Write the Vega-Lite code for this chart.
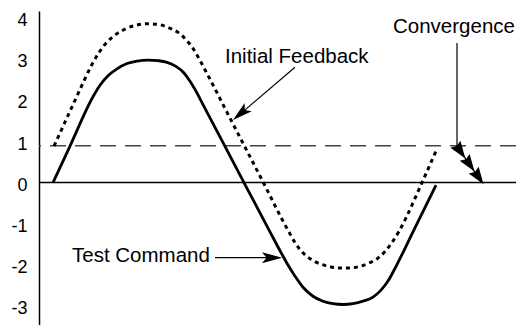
{
  "$schema": "https://vega.github.io/schema/vega-lite/v6.json",
  "autosize": {"type": "none"},
  "padding": {"left": 39, "top": 11, "right": 0, "bottom": 0},
  "width": 477,
  "height": 314,
  "background": "white",
  "config": {"view": {"stroke": null}},
  "datasets": {
    "curves": [
      {"t": 14, "v": 0.0, "series": "Test Command"},
      {"t": 31, "v": 0.89, "series": "Test Command"},
      {"t": 54, "v": 2.09, "series": "Test Command"},
      {"t": 61, "v": 2.37, "series": "Test Command"},
      {"t": 69, "v": 2.60, "series": "Test Command"},
      {"t": 78, "v": 2.77, "series": "Test Command"},
      {"t": 88, "v": 2.90, "series": "Test Command"},
      {"t": 98, "v": 2.96, "series": "Test Command"},
      {"t": 109, "v": 2.985, "series": "Test Command"},
      {"t": 119, "v": 2.97, "series": "Test Command"},
      {"t": 128, "v": 2.93, "series": "Test Command"},
      {"t": 137, "v": 2.83, "series": "Test Command"},
      {"t": 145, "v": 2.67, "series": "Test Command"},
      {"t": 151, "v": 2.47, "series": "Test Command"},
      {"t": 156, "v": 2.27, "series": "Test Command"},
      {"t": 161, "v": 2.04, "series": "Test Command"},
      {"t": 186, "v": 0.88, "series": "Test Command"},
      {"t": 208, "v": -0.14, "series": "Test Command"},
      {"t": 231, "v": -1.20, "series": "Test Command"},
      {"t": 243, "v": -1.75, "series": "Test Command"},
      {"t": 249, "v": -2.01, "series": "Test Command"},
      {"t": 256, "v": -2.28, "series": "Test Command"},
      {"t": 264, "v": -2.55, "series": "Test Command"},
      {"t": 274, "v": -2.77, "series": "Test Command"},
      {"t": 284, "v": -2.89, "series": "Test Command"},
      {"t": 294, "v": -2.95, "series": "Test Command"},
      {"t": 304, "v": -2.97, "series": "Test Command"},
      {"t": 314, "v": -2.95, "series": "Test Command"},
      {"t": 324, "v": -2.89, "series": "Test Command"},
      {"t": 334, "v": -2.79, "series": "Test Command"},
      {"t": 342, "v": -2.62, "series": "Test Command"},
      {"t": 349, "v": -2.40, "series": "Test Command"},
      {"t": 356, "v": -2.09, "series": "Test Command"},
      {"t": 374, "v": -1.20, "series": "Test Command"},
      {"t": 397, "v": -0.06, "series": "Test Command"},
      {"t": 15, "v": 0.89, "series": "Initial Feedback"},
      {"t": 25, "v": 1.42, "series": "Initial Feedback"},
      {"t": 35, "v": 1.95, "series": "Initial Feedback"},
      {"t": 45, "v": 2.48, "series": "Initial Feedback"},
      {"t": 53, "v": 2.88, "series": "Initial Feedback"},
      {"t": 60, "v": 3.17, "series": "Initial Feedback"},
      {"t": 68, "v": 3.42, "series": "Initial Feedback"},
      {"t": 77, "v": 3.61, "series": "Initial Feedback"},
      {"t": 87, "v": 3.75, "series": "Initial Feedback"},
      {"t": 98, "v": 3.84, "series": "Initial Feedback"},
      {"t": 109, "v": 3.87, "series": "Initial Feedback"},
      {"t": 120, "v": 3.85, "series": "Initial Feedback"},
      {"t": 130, "v": 3.77, "series": "Initial Feedback"},
      {"t": 139, "v": 3.66, "series": "Initial Feedback"},
      {"t": 147, "v": 3.48, "series": "Initial Feedback"},
      {"t": 154, "v": 3.27, "series": "Initial Feedback"},
      {"t": 160, "v": 3.02, "series": "Initial Feedback"},
      {"t": 166, "v": 2.75, "series": "Initial Feedback"},
      {"t": 191, "v": 1.57, "series": "Initial Feedback"},
      {"t": 221, "v": 0.16, "series": "Initial Feedback"},
      {"t": 251, "v": -1.25, "series": "Initial Feedback"},
      {"t": 257, "v": -1.50, "series": "Initial Feedback"},
      {"t": 264, "v": -1.71, "series": "Initial Feedback"},
      {"t": 272, "v": -1.87, "series": "Initial Feedback"},
      {"t": 281, "v": -1.98, "series": "Initial Feedback"},
      {"t": 291, "v": -2.05, "series": "Initial Feedback"},
      {"t": 301, "v": -2.08, "series": "Initial Feedback"},
      {"t": 311, "v": -2.08, "series": "Initial Feedback"},
      {"t": 321, "v": -2.04, "series": "Initial Feedback"},
      {"t": 331, "v": -1.95, "series": "Initial Feedback"},
      {"t": 339, "v": -1.84, "series": "Initial Feedback"},
      {"t": 346, "v": -1.68, "series": "Initial Feedback"},
      {"t": 353, "v": -1.46, "series": "Initial Feedback"},
      {"t": 360, "v": -1.19, "series": "Initial Feedback"},
      {"t": 367, "v": -0.86, "series": "Initial Feedback"},
      {"t": 383, "v": 0.0, "series": "Initial Feedback"},
      {"t": 398, "v": 0.82, "series": "Initial Feedback"}
    ],
    "levels": [
      {"level": 0, "kind": "zero"},
      {"level": 0.9, "kind": "target"}
    ],
    "notes": [
      {"label": "Initial Feedback", "t": 186, "v": 2.91},
      {"label": "Convergence", "t": 354, "v": 3.64},
      {"label": "Test Command", "t": 33, "v": -1.94}
    ],
    "segments": [
      {"name": "test", "t": 176, "v": -1.83, "t2": 240, "v2": -1.83},
      {"name": "feedback", "t": 256, "v": 2.81, "t2": 201.6, "v2": 1.68},
      {"name": "conv", "t": 418, "v": 3.40, "t2": 418, "v2": 0.89},
      {"name": "conv", "t": 418, "v": 0.89, "t2": 443, "v2": 0.0}
    ],
    "heads": [
      {"name": "test", "t": 233, "v": -1.83},
      {"name": "feedback", "t": 201.6, "v": 1.68},
      {"name": "conv", "t": 421.4, "v": 0.76},
      {"name": "conv", "t": 430.6, "v": 0.44},
      {"name": "conv", "t": 439.6, "v": 0.13}
    ]
  },
  "encoding": {
    "x": {"field": "t", "type": "quantitative", "scale": {"domain": [0, 477], "nice": false, "zero": false}, "axis": null},
    "y": {"field": "v", "type": "quantitative", "scale": {"domain": [-3.47, 4.18], "nice": false, "zero": false},
      "axis": {"values": [-3, -2, -1, 0, 1, 2, 3, 4], "title": null, "grid": false, "ticks": false, "tickSize": 0,
        "labelPadding": 12, "labelFontSize": 18, "labelFont": "Liberation Sans", "labelColor": "black",
        "labelExpr": "replace(datum.label, '\u2212', '-')",
        "domainColor": "black", "domainWidth": 1.5, "labelOffset": 2.5}}
  },
  "layer": [
    {
      "data": {"name": "levels"},
      "transform": [{"filter": "datum.kind === 'zero'"}],
      "mark": {"type": "rule", "color": "black", "strokeWidth": 1.5},
      "encoding": {"x": null, "y": {"field": "level", "type": "quantitative"}}
    },
    {
      "data": {"name": "levels"},
      "transform": [{"filter": "datum.kind === 'target'"}],
      "mark": {"type": "rule", "color": "#444444", "strokeWidth": 1.5, "strokeDash": [16, 9]},
      "encoding": {"x": null, "y": {"field": "level", "type": "quantitative"}}
    },
    {
      "data": {"name": "curves"},
      "transform": [{"filter": "datum.series === 'Test Command'"}],
      "mark": {"type": "line", "color": "black", "strokeWidth": 2.8, "interpolate": "monotone"},
      "encoding": {}
    },
    {
      "data": {"name": "curves"},
      "transform": [{"filter": "datum.series === 'Initial Feedback'"}],
      "mark": {"type": "line", "color": "black", "strokeWidth": 3, "strokeDash": [4, 4], "interpolate": "monotone"},
      "encoding": {}
    },
    {
      "data": {"name": "segments"},
      "mark": {"type": "rule", "color": "black", "strokeWidth": 1.2},
      "encoding": {"x2": {"field": "t2"}, "y2": {"field": "v2"}}
    },
    {
      "data": {"name": "heads"},
      "transform": [{"filter": "datum.name === 'test'"}],
      "mark": {"type": "point", "shape": "M1,0L-1,-0.55L-0.55,0L-1,0.55Z", "filled": true, "size": 400, "angle": 0, "color": "black", "opacity": 1, "strokeWidth": 0},
      "encoding": {}
    },
    {
      "data": {"name": "heads"},
      "transform": [{"filter": "datum.name === 'feedback'"}],
      "mark": {"type": "point", "shape": "M1,0L-1,-0.55L-0.55,0L-1,0.55Z", "filled": true, "size": 400, "angle": 139.5, "color": "black", "opacity": 1, "strokeWidth": 0},
      "encoding": {}
    },
    {
      "data": {"name": "heads"},
      "transform": [{"filter": "datum.name === 'conv'"}],
      "mark": {"type": "point", "shape": "M1,0L-1,-0.7L-0.75,0L-1,0.7Z", "filled": true, "size": 300, "angle": 55.2, "color": "black", "opacity": 1, "strokeWidth": 0},
      "encoding": {}
    },
    {
      "data": {"name": "notes"},
      "mark": {"type": "text", "align": "left", "baseline": "alphabetic", "font": "Liberation Sans", "fontSize": 20.5, "color": "black"},
      "encoding": {"text": {"field": "label"}}
    }
  ]
}
